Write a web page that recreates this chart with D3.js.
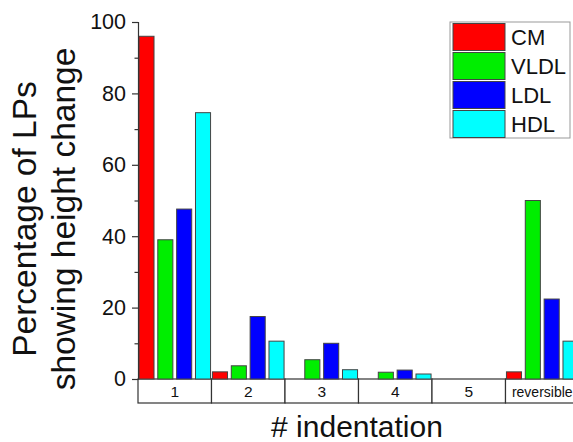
<!DOCTYPE html>
<html>
<head>
<meta charset="utf-8">
<script src="https://cdn.jsdelivr.net/npm/d3@7"></script>
<style>
  body { margin: 0; background: #fff; }
  text { font-family: "Liberation Sans", Arial, sans-serif; fill: #111; }
</style>
</head>
<body>
<svg id="chart"></svg>
<script>
const categories = ["1", "2", "3", "4", "5", "reversible"];
const series = ["CM", "VLDL", "LDL", "HDL"];
const colors = ["#ff0000", "#00ee00", "#0000ff", "#00ffff"];
const cm = [96, 2.0, 0, 0, 0, 2.0];
const vldl = [39, 3.7, 5.4, 1.9, 0, 50];
const ldl = [47.6, 17.5, 10, 2.5, 0, 22.4];
const hdl = [74.6, 10.6, 2.6, 1.4, 0, 10.6];
const majorTicks = [0, 20, 40, 60, 80, 100];
const minorTicks = [10, 30, 50, 70, 90];

const svg_size = {width: 573, height: 442};
const plot_margin = {top: 22, left: 138, bottom: 63};
const cat_width = 73.5;
const plot_height = svg_size.height - plot_margin.top - plot_margin.bottom;

const svg = d3.select("#chart")
    .attr("width", svg_size.width)
    .attr("height", svg_size.height);
const plot = svg.append("g")
    .attr("transform", `translate(${plot_margin.left},${plot_margin.top})`);

const x = d3.scaleBand().domain(categories).range([0, cat_width * categories.length]);
const xs = d3.scaleBand().domain(series).range([0, x.bandwidth()]).paddingInner(0.2).paddingOuter(0.05);
const y = d3.scaleLinear().domain([0, 100]).range([plot_height, 0]);

const values = [cm, vldl, ldl, hdl];
const rows = [];
categories.forEach((c, i) => series.forEach((s, j) => rows.push({cat: c, s: s, v: values[j][i], color: colors[j]})));

// category boxes under the axis
plot.append("g").selectAll("rect")
    .data(categories)
    .enter().append("rect")
    .attr("x", d => x(d))
    .attr("y", plot_height)
    .attr("width", x.bandwidth())
    .attr("height", 24)
    .attr("fill", "#fff")
    .attr("stroke", "#333")
    .attr("stroke-width", 1.2);

plot.append("g").selectAll("text")
    .data(categories)
    .enter().append("text")
    .attr("x", d => x(d) + x.bandwidth() / 2)
    .attr("y", plot_height + 18)
    .attr("text-anchor", "middle")
    .attr("font-size", d => d.length > 1 ? 14 : 15.5)
    .text(d => d);

// bars
plot.append("g").selectAll("rect")
    .data(rows)
    .enter().append("rect")
    .attr("x", d => x(d.cat) + xs(d.s))
    .attr("y", d => y(d.v))
    .attr("width", xs.bandwidth())
    .attr("height", d => y(0) - y(d.v))
    .attr("fill", d => d.color)
    .attr("stroke", "#444")
    .attr("stroke-width", d => d.v > 0 ? 1 : 0);

// y axis
const yAxis = plot.append("g")
    .call(d3.axisLeft(y).tickValues(majorTicks).tickSize(6).tickPadding(6));
yAxis.selectAll("text").attr("font-size", 21.5).attr("fill", "#111");
yAxis.select(".domain").attr("stroke", "#333").attr("stroke-width", 1.2);
yAxis.selectAll(".tick line").attr("stroke", "#333").attr("stroke-width", 1.2);

const yMinor = plot.append("g")
    .call(d3.axisLeft(y).tickValues(minorTicks).tickSize(3.5).tickFormat(""));
yMinor.select(".domain").remove();
yMinor.selectAll(".tick line").attr("stroke", "#333").attr("stroke-width", 1.2);

// y axis title
const ylab = svg.append("text")
    .attr("transform", `translate(0,${219}) rotate(-90)`)
    .attr("text-anchor", "middle")
    .attr("font-size", 33.5);
ylab.selectAll("tspan")
    .data(["Percentage of LPs", "showing height change"])
    .enter().append("tspan")
    .attr("x", 0)
    .attr("y", (d, i) => 36 + i * 39)
    .text(d => d);

// x axis title
svg.append("text")
    .attr("x", 357)
    .attr("y", 437)
    .attr("text-anchor", "middle")
    .attr("font-size", 30)
    .text("# indentation");

// legend
const legend = svg.append("g").attr("transform", "translate(450,22)");
legend.append("rect")
    .attr("width", 120).attr("height", 116)
    .attr("fill", "#fff").attr("stroke", "#999").attr("stroke-width", 1);
const item = legend.selectAll("g.item")
    .data(series)
    .enter().append("g")
    .attr("class", "item")
    .attr("transform", (d, i) => `translate(3,${1.5 + i * 29})`);
item.append("rect")
    .attr("width", 52).attr("height", 27)
    .attr("fill", (d, i) => colors[i])
    .attr("stroke", "#444");
item.append("text")
    .attr("x", 58)
    .attr("y", 21)
    .attr("font-size", 22)
    .text(d => d);
</script>
</body>
</html>
